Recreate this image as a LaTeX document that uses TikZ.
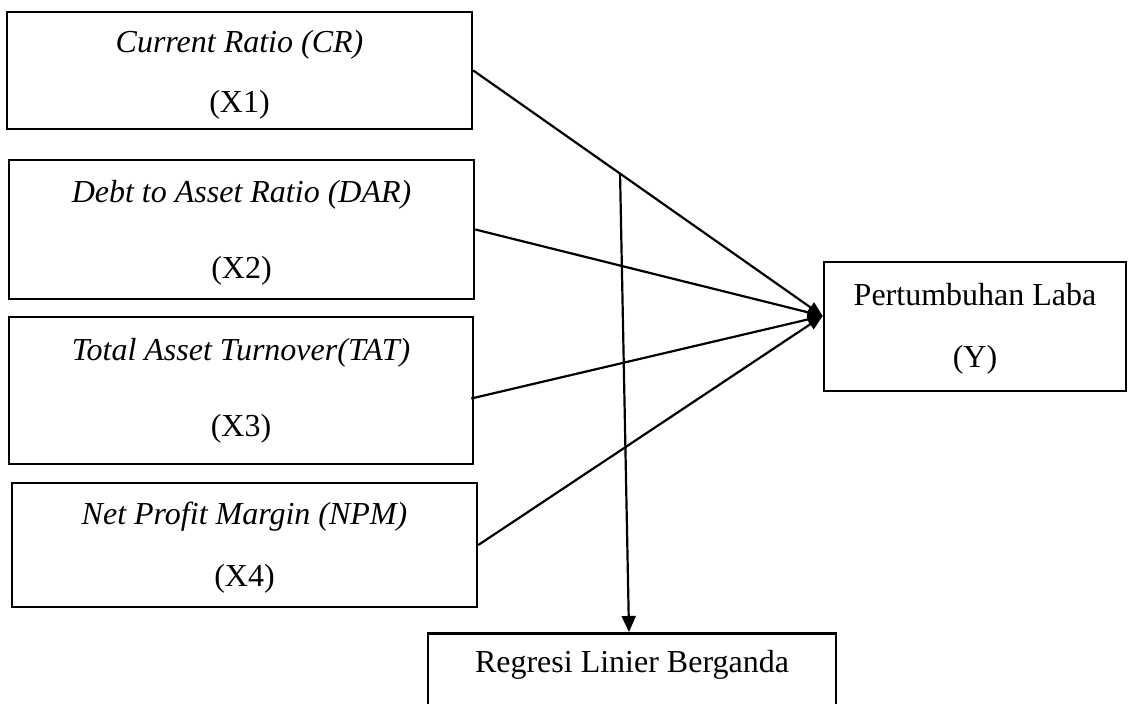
\documentclass[tikz,border=0pt]{standalone}
\usepackage{fontspec}
\setmainfont{Liberation Serif}
\usetikzlibrary{arrows.meta,calc}
\newcommand{\lowerstrut}[1]{\rule{0pt}{#1}}
\begin{document}
\begin{tikzpicture}[x=1pt,y=-1pt,
  box/.style={draw=black,line width=2.6pt,rectangle,inner sep=0pt,align=center},
  conn/.style={line width=2.2pt,-{Triangle[length=15pt,width=12pt]}},
  down/.style={line width=2.2pt,-{Triangle[length=16pt,width=14pt]}}]
\clip (0,0) rectangle (1128,704);
\fill[white] (0,0) rectangle (1128,704);
\node[box,minimum width=465,minimum height=117,font=\fontsize{32}{60}\selectfont] (X1) at (239.5,70.5) {\lowerstrut{30pt}\textit{Current Ratio (CR)}\\(X1)};
\node[box,minimum width=465,minimum height=139,font=\fontsize{32}{76}\selectfont] (X2) at (241.5,229.5) {\lowerstrut{29pt}\textit{Debt to Asset Ratio (DAR)}\\(X2)};
\node[box,minimum width=464,minimum height=147,font=\fontsize{32}{76}\selectfont] (X3) at (241,390.5) {\textit{Total Asset Turnover(TAT)}\\(X3)};
\node[box,minimum width=465,minimum height=124,font=\fontsize{32}{62}\selectfont] (X4) at (244.5,545) {\lowerstrut{28pt}\textit{Net Profit Margin (NPM)}\\(X4)};
\node[box,minimum width=302,minimum height=129,font=\fontsize{32}{62}\selectfont] (Y) at (975,326.5) {\lowerstrut{27pt}Pertumbuhan Laba\\(Y)};
\node[box,minimum width=408,minimum height=80,anchor=north,text depth=24pt,font=\fontsize{32}{38}\selectfont] (R) at (632,632) {Regresi Linier Berganda};
\coordinate (yin) at ($(Y.north west)!0.42!(Y.south west)$);
\coordinate (x3out) at ($(X3.east)+(-3,8)$);
\coordinate (branch) at ($(X1.east)!0.42!(yin)$);
\coordinate (rin) at ($(R.north)+(-3,0)$);
\draw[conn] (X1.east) -- (yin);
\draw[conn] (X2.east) -- (yin);
\draw[conn] (x3out) -- (yin);
\draw[conn] (X4.east) -- (yin);
\draw[down] (branch) -- (rin);
\end{tikzpicture}
\end{document}
